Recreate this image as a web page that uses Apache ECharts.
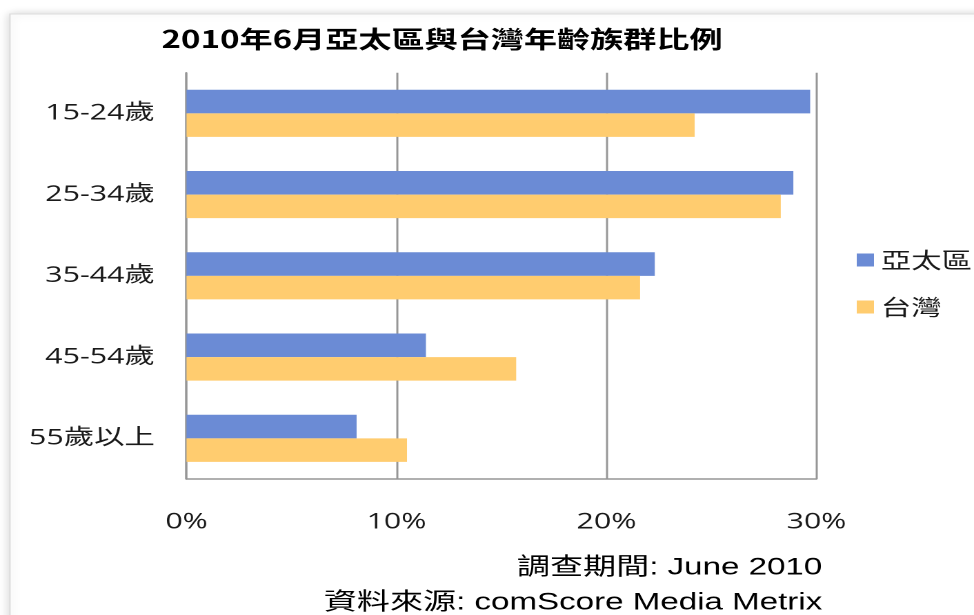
<!DOCTYPE html>
<html>
<head>
<meta charset="utf-8">
<script src="https://cdn.jsdelivr.net/npm/echarts@6/dist/echarts.min.js"></script>
<style>
  html, body { margin:0; padding:0; background:#fff; overflow:hidden; }
  /* el gráfico original viene estirado en horizontal: se dibuja angosto y se estira */
  #chart { width:706px; height:615px; transform:scaleX(1.3796); transform-origin:0 0; }
</style>
</head>
<body>
<div id="chart"></div>
<script>
// === Datos ===
const ageGroups = ['15-24歲', '25-34歲', '35-44歲', '45-54歲', '55歲以上'];
const asiaPacific = [29.7, 28.9, 22.3, 11.4, 8.1];
const taiwan = [24.2, 28.3, 21.6, 15.7, 10.5];
const seriesNames = ['亞太區', '台灣'];
const titleText = '2010年6月亞太區與台灣年齡族群比例';
const noteLines = ['調查期間: June 2010', '資料來源: comScore Media Metrix'];

// === Paleta ===
const blue = '#6b8bd5', orange = '#ffcc6f', line = '#969696', ink = '#1a1a1a';
const labelFont = "'Open Sans', 'Noto Sans CJK TC', sans-serif";
const noteFont = "'Liberation Sans', 'Noto Sans CJK TC', sans-serif";

const chart = echarts.init(document.getElementById('chart'), null, { devicePixelRatio: 2 });

chart.setOption({
  animation: false,
  title: {
    text: titleText, left: 112, top: 22,
    textStyle: { fontFamily: "'Noto Sans CJK TC', sans-serif", fontWeight: 'bold', fontSize: 24, color: '#000' }
  },
  legend: {
    orient: 'vertical', left: 616, top: 244,
    itemWidth: 12.5, itemHeight: 13, itemGap: 25,
    icon: 'rect',
    textStyle: { fontFamily: "'Noto Sans CJK TC', sans-serif", fontSize: 22, color: ink },
    data: seriesNames
  },
  grid: { left: 135.2, right: 114.2, top: 72.7, bottom: 136, containLabel: false },
  xAxis: {
    type: 'value', min: 0, max: 30, interval: 10,
    axisLine: { show: true, lineStyle: { color: line, width: 1.5 } },
    axisTick: { show: false },
    axisLabel: { formatter: '{value}%', margin: 32, fontFamily: labelFont, fontSize: 22, color: ink },
    splitLine: { lineStyle: { color: line, width: 1.5 } }
  },
  yAxis: {
    type: 'category', data: ageGroups, inverse: true,
    axisLine: { show: true, lineStyle: { color: line, width: 1.5 } },
    axisTick: { show: false },
    axisLabel: { margin: 23, fontFamily: labelFont, fontSize: 22, color: ink }
  },
  graphic: [
    { type: 'rect', z: -10, shape: { x: 7.2, y: 14, width: 720, height: 620 },
      style: { fill: '#fff', stroke: '#dcdcdc', lineWidth: 1, shadowBlur: 8, shadowColor: 'rgba(0,0,0,0.18)' } },
    { type: 'text', right: 110, top: 556,
      style: { text: noteLines[0], textAlign: 'right', font: '24px ' + noteFont, fill: '#000' } },
    { type: 'text', right: 110, top: 591,
      style: { text: noteLines[1], textAlign: 'right', font: '24px ' + noteFont, fill: '#000' } }
  ],
  series: [
    { name: seriesNames[0], type: 'bar', data: asiaPacific, barGap: '0%', barCategoryGap: '42%',
      itemStyle: { color: blue } },
    { name: seriesNames[1], type: 'bar', data: taiwan, barGap: '0%', barCategoryGap: '42%',
      itemStyle: { color: orange } }
  ]
});
</script>
</body>
</html>
